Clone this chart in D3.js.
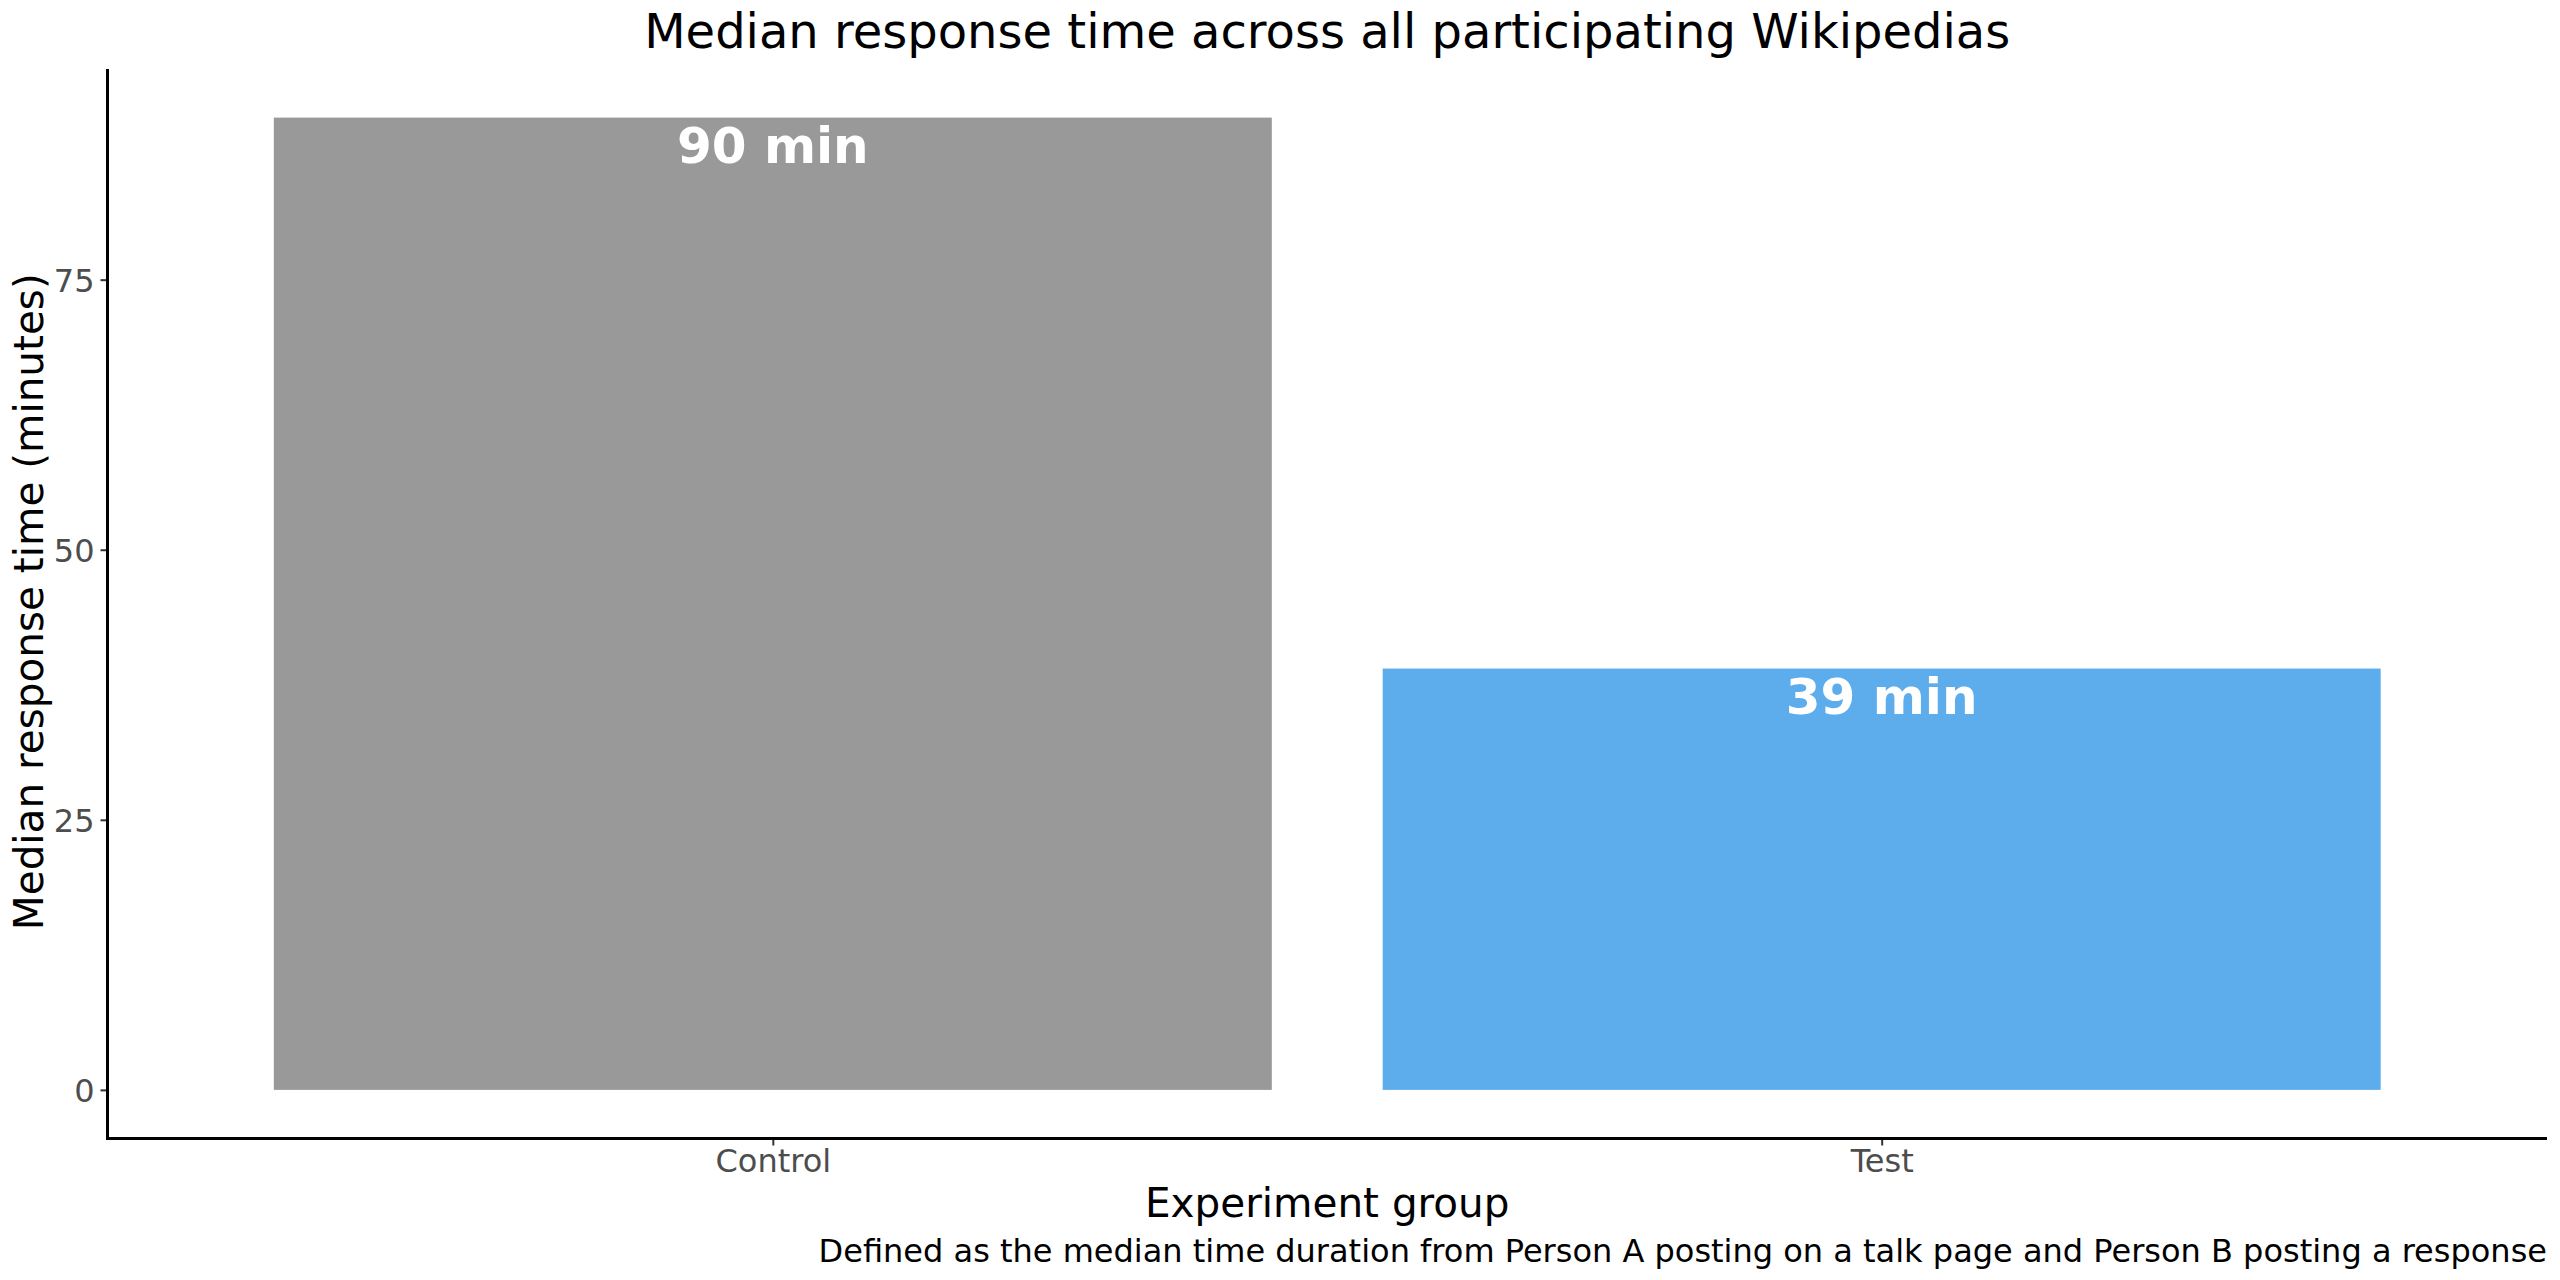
<!DOCTYPE html>
<html><head><meta charset="utf-8">
<script src="https://cdn.jsdelivr.net/npm/d3@7"></script>
<style>body{margin:0;background:#fff}svg{display:block}text{font-family:"DejaVu Sans",sans-serif}</style>
</head><body>
<script>
const categories = ["Control", "Test"];
const values = [90, 39];
const labels = ["90 min", "39 min"];
const barColors = ["#999999", "#5DADEC"];
const yTicks = [0, 25, 50, 75];
const titleText = "Median response time across all participating Wikipedias";
const xTitle = "Experiment group";
const yTitle = "Median response time (minutes)";
const captionText = "Defined as the median time duration from Person A posting on a talk page and Person B posting a response";

(function(){
const W = 2560, H = 1280;
const pLeft = 107.5, pRight = 2547, pTop = 69, pBottom = 1138.5;
const svg = d3.select("body").append("svg").attr("width", W).attr("height", H);

const y = d3.scaleLinear().domain([-4.5, 94.5]).range([pBottom, pTop]);
const xi = d3.scaleLinear().domain([0.4, 2.6]).range([pLeft, pRight]);
const bw = xi(1.45) - xi(0.55);

svg.selectAll("rect.bar").data(values).join("rect")
  .attr("class", "bar")
  .attr("x", (d,i) => xi(i+1) - bw/2)
  .attr("width", bw)
  .attr("y", d => y(d))
  .attr("height", d => y(0) - y(d))
  .attr("fill", (d,i) => barColors[i]);

svg.selectAll("text.lab").data(values).join("text")
  .attr("class", "lab")
  .attr("x", (d,i) => xi(i+1))
  .attr("y", d => y(d) + 45)
  .attr("text-anchor", "middle")
  .attr("font-size", 50).attr("font-weight", "bold").attr("fill", "#fff")
  .text((d,i) => labels[i]);

const yAxis = d3.axisLeft(y).tickValues(yTicks).tickSize(7).tickPadding(6);
const gy = svg.append("g").attr("transform", `translate(${pLeft},0)`).call(yAxis);
gy.select(".domain").remove();
gy.selectAll(".tick line").attr("stroke", "#333").attr("stroke-width", 2);
gy.selectAll(".tick text").attr("font-size", 32).attr("fill", "#4d4d4d").attr("font-family", "DejaVu Sans").attr("dy", "0.36em");

const xAxis = d3.axisBottom(xi).tickValues([1,2]).tickFormat((d) => categories[d-1]).tickSize(7).tickPadding(4);
const gx = svg.append("g").attr("transform", `translate(0,${pBottom})`).call(xAxis);
gx.select(".domain").remove();
gx.selectAll(".tick line").attr("stroke", "#333").attr("stroke-width", 2);
gx.selectAll(".tick text").attr("font-size", 32).attr("fill", "#4d4d4d").attr("font-family", "DejaVu Sans").attr("dy", "0.71em");

svg.append("line").attr("x1", pLeft).attr("x2", pLeft).attr("y1", pTop).attr("y2", pBottom+1.5).attr("stroke", "#000").attr("stroke-width", 3);
svg.append("line").attr("x1", pLeft-1.5).attr("x2", pRight).attr("y1", pBottom).attr("y2", pBottom).attr("stroke", "#000").attr("stroke-width", 3);

const cx = (pLeft + pRight) / 2;
svg.append("text").attr("x", cx).attr("y", 48).attr("text-anchor", "middle").attr("font-size", 48).attr("fill", "#000").text(titleText);
svg.append("text").attr("x", cx).attr("y", 1217).attr("text-anchor", "middle").attr("font-size", 40.5).attr("fill", "#000").text(xTitle);
svg.append("text").attr("transform", `translate(43,${(pTop+pBottom)/2 - 2}) rotate(-90)`).attr("text-anchor", "middle").attr("font-size", 40.5).attr("fill", "#000").text(yTitle);
svg.append("text").attr("x", pRight).attr("y", 1262).attr("text-anchor", "end").attr("font-size", 32).attr("fill", "#000").text(captionText);
})();
</script>
</body></html>
